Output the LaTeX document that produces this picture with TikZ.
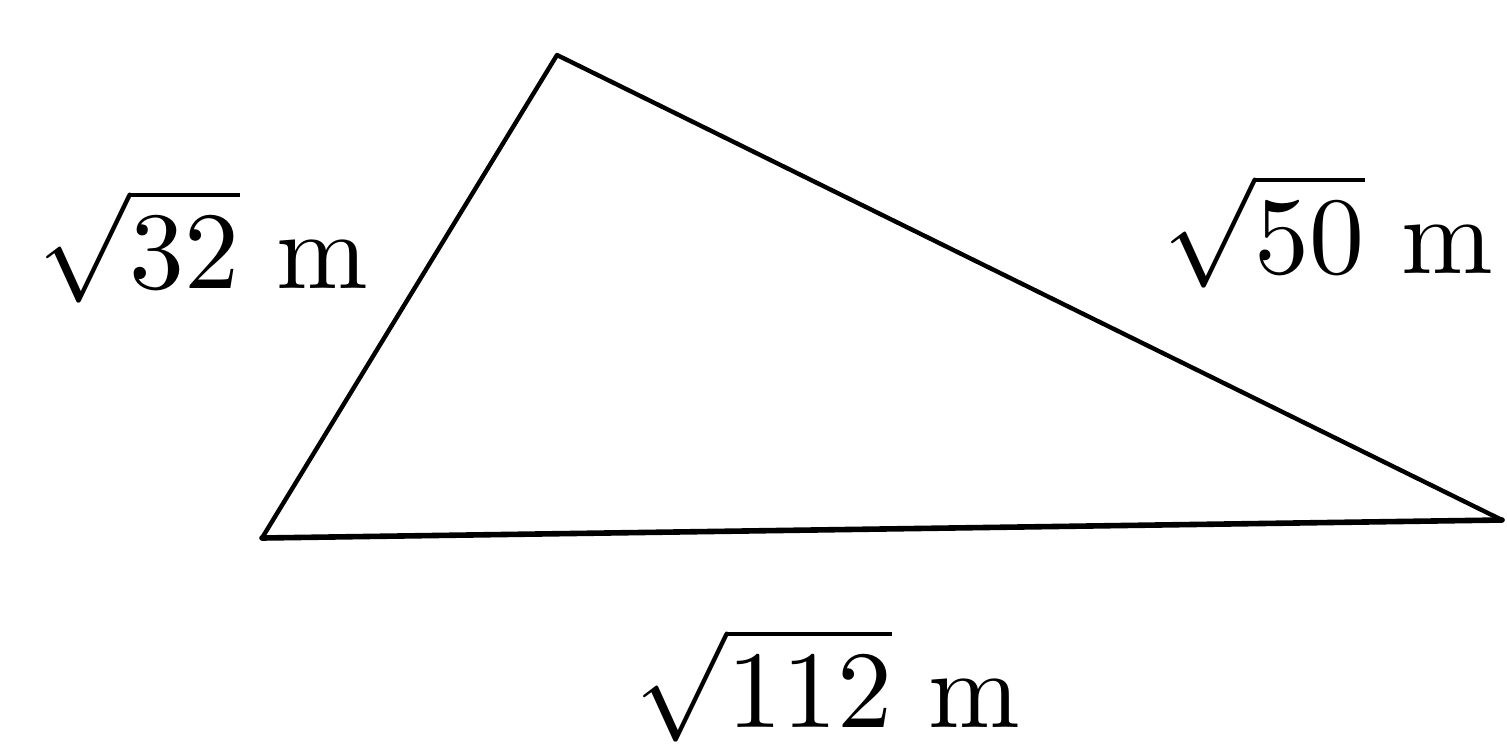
\documentclass[tikz,border=0pt]{standalone}
\usepackage{graphicx}
\begin{document}
\begin{tikzpicture}[x=0.5pt,y=-0.5pt,
  side/.style={line width=2.2pt,line cap=round,line join=round},
  lbl/.style={anchor=base,inner sep=0pt}]
\useasboundingbox (0,0) rectangle (1507,751);
\coordinate (A) at (262,538);
\coordinate (B) at (557,55);
\coordinate (C) at (1502,520);
\draw[side] (A) -- (B) -- (C);
\draw[side,line width=2.8pt] (A) -- (C);
\node[lbl] (l32) at (203,288) {\scalebox{5.5}{$\sqrt{32}$ m}};
\node[lbl] (l50) at (1328,273) {\scalebox{5.5}{$\sqrt{50}$ m}};
\node[lbl] (l112) at (828,727) {\scalebox{5.5}{$\sqrt{112}$ m}};
\end{tikzpicture}
\end{document}
